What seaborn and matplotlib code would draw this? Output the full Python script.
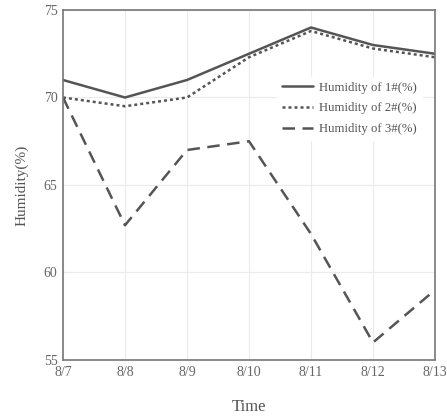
import matplotlib
matplotlib.use("Agg")
from matplotlib import pyplot as plt
import seaborn as sns
import pandas as pd

dates = ["8/7", "8/8", "8/9", "8/10", "8/11", "8/12", "8/13"]
hum1 = [71.0, 70.0, 71.0, 72.5, 74.0, 73.0, 72.5]
hum2 = [70.0, 69.5, 70.0, 72.3, 73.8, 72.8, 72.3]
hum3 = [70.0, 62.7, 67.0, 67.5, 62.2, 56.0, 59.0]
names = ["Humidity of 1#(%)", "Humidity of 2#(%)", "Humidity of 3#(%)"]

df = pd.DataFrame({"Time": dates, names[0]: hum1, names[1]: hum2, names[2]: hum3})
long = df.melt(id_vars="Time", var_name="series", value_name="Humidity")
long["x"] = long["Time"].map({d: i for i, d in enumerate(dates)})

sns.set_style("whitegrid", {"grid.color": "#ebebeb", "axes.edgecolor": "#777777"})
plt.rcParams["font.family"] = ["Liberation Serif", "DejaVu Serif"]

fig = plt.figure(figsize=(4.47, 4.19), dpi=100)
ax = fig.add_axes([63 / 447, 1 - 360 / 419, 372 / 447, 350 / 419])

dashes = {names[0]: "", names[1]: (1.2, 1.2), names[2]: (5, 3)}
p = sns.lineplot(data=long, x="x", y="Humidity", hue="series", style="series",
                 palette=["#555555"] * 3, dashes=dashes, linewidth=1.8, ax=ax)

ax.set_xlim(0, 6)
ax.set_ylim(55, 75)
ax.set_xticks(range(len(dates)))
ax.set_xticklabels(dates)
ax.set_yticks([55, 60, 65, 70, 75])
ax.tick_params(labelsize=10, colors="#666666", length=0, pad=4)
ax.set_xlabel("Time", fontsize=12, color="#555555", labelpad=15)
ax.set_ylabel("Humidity(%)", fontsize=11, color="#555555", labelpad=11)
for s in ax.spines.values():
    s.set_linewidth(1.2)

leg = ax.legend(loc="upper left", bbox_to_anchor=(0.575, 0.81), frameon=True,
                fontsize=9.2, handlelength=2.4, handletextpad=0.5, labelspacing=0.68,
                borderpad=0.4, borderaxespad=0)
leg.get_frame().set_edgecolor("white")
leg.get_frame().set_alpha(1)
for t in leg.get_texts():
    t.set_color("#555555")

plt.savefig("out.png", dpi=100)
